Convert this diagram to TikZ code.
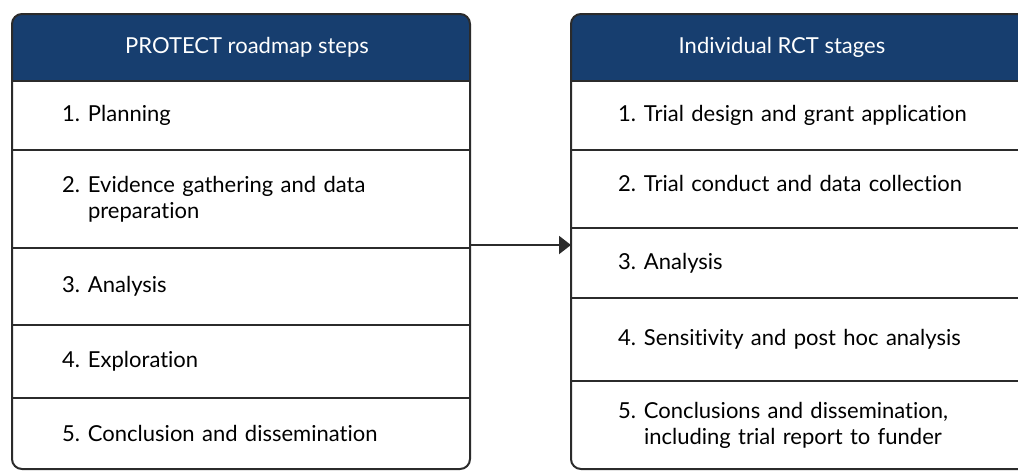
\documentclass[tikz,border=0pt]{standalone}
\usepackage{fontspec}
\setmainfont{Lato}[Ligatures={NoCommon,NoRare}]
\usetikzlibrary{positioning,arrows.meta}
\definecolor{hdrblue}{HTML}{173E6F}
\definecolor{edge}{HTML}{2B2B2B}
\newcommand{\stepno}[1]{\makebox[26pt][l]{#1}}

\begin{document}
\begin{tikzpicture}[x=1pt,y=-1pt,
  every node/.style={outer sep=0pt},
  font=\fontsize{22}{26}\selectfont,
  lrow/.style={minimum height=#1, text width=358pt, inner xsep=50pt, inner ysep=0pt, align=left, anchor=north west},
  rrow/.style={minimum height=#1, text width=364pt, inner xsep=47pt, inner ysep=0pt, align=left, anchor=north west},
  frame/.style={draw=edge, line width=2pt, rounded corners=10pt},
  divider/.style={draw=edge, line width=1.5pt},
  headtext/.style={text=white}]
\useasboundingbox (0,0) rectangle (1018,472);
\clip (0,0) rectangle (1018,472);

\node[lrow=69pt] (l1) at (12,81) {\stepno{1.}Planning};
\node[lrow=98pt, below=0pt of l1] (l2) {\stepno{2.}Evidence gathering and data\\\hspace*{26pt}preparation};
\node[lrow=77pt, below=0pt of l2] (l3) {\stepno{3.}Analysis};
\node[lrow=73pt, below=0pt of l3] (l4) {\stepno{4.}Exploration};
\node[lrow=71pt, below=0pt of l4] (l5) {\stepno{5.}Conclusion and dissemination};
\coordinate (ltop) at (12,14);
\begin{scope}
\clip[rounded corners=10pt] (ltop) rectangle (l5.south east);
\fill[hdrblue] (ltop) rectangle (l1.north east);
\end{scope}
\node[headtext] (lhead) at (247,47.5) {PROTECT roadmap steps};
\foreach \r in {l1,l2,l3,l4} \draw[divider] (\r.south west) -- (\r.south east);
\draw[divider, line width=2pt] (l1.north west) -- (l1.north east);
\draw[frame] (ltop) rectangle (l5.south east);

\node[rrow=69pt] (r1) at (571,81) {\stepno{1.}Trial design and grant application};
\node[rrow=78pt, below=0pt of r1] (r2) {\raisebox{12pt}{\stepno{2.}Trial conduct and data collection}};
\node[rrow=70pt, below=0pt of r2] (r3) {\stepno{3.}Analysis};
\node[rrow=83pt, below=0pt of r3] (r4) {\stepno{4.}Sensitivity and post hoc analysis};
\node[rrow=88pt, below=0pt of r4] (r5) {\stepno{5.}Conclusions and dissemination,\\\hspace*{26pt}including trial report to funder};
\coordinate (rtop) at (571,14);
\begin{scope}
\clip[rounded corners=10pt] (rtop) rectangle (r5.south east);
\fill[hdrblue] (rtop) rectangle (r1.north east);
\end{scope}
\node[headtext] (rhead) at (782,47.5) {Individual RCT stages};
\foreach \r in {r1,r2,r3,r4} \draw[divider] (\r.south west) -- (\r.south east);
\draw[divider, line width=2pt] (r1.north west) -- (r1.north east);
\draw[frame] (rtop) rectangle (r5.south east);

\draw[draw=edge, line width=2pt, -{Triangle[length=12pt,width=18pt]}] ([yshift=3pt]l3.north east) -- ([yshift=3pt]l3.north east -| r3.west);
\end{tikzpicture}
\end{document}
